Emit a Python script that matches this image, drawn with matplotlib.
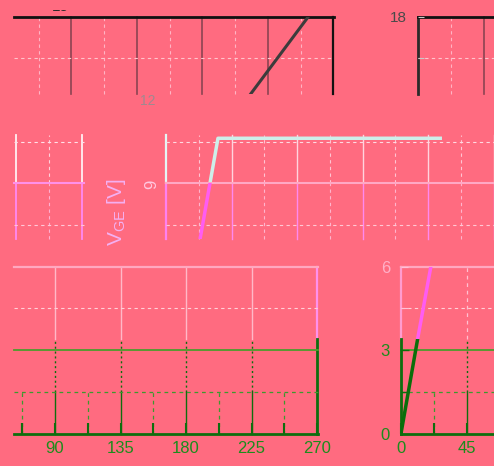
"""
Rekonstrukcija izlomljenog V_GE grafika (vise panela sa zajednickom y skalom).
"""

import matplotlib

matplotlib.use("Agg")
import matplotlib.pyplot as plt
from matplotlib.patches import Rectangle

plt.rcParams["font.family"] = ["Liberation Sans", "DejaVu Sans"]
plt.rcParams["mathtext.fontset"] = "custom"
plt.rcParams["mathtext.rm"] = "Liberation Sans"

W, H = 494, 466
BG = "#FF6B80"

# Zajednicka mreza
X_MAJOR = [0, 45, 90, 135, 180, 225, 270]
X_MINOR = [22.5, 67.5, 112.5, 157.5, 202.5, 247.5]
Y_MAJOR = [0, 3, 6, 9, 12, 15, 18]
Y_MINOR = [1.5, 4.5, 7.5, 10.5, 13.5, 16.5]

BOTTOM_XTICKS = [90, 135, 180, 225, 270]
RIGHT_XTICKS = [0, 45]
RIGHT_YTICKS_LOW = [0, 3]
RIGHT_YTICKS_HIGH = [6]

# Krive
a_x = [212.9, 252.8]
a_y = [12.2, 15.0]
d_x = [23.4, 35.7, 189.6]
d_y = [6.99, 10.62, 10.62]
f_x = [0.0, 11.6, 20.5]
f_y = [0.0, 3.45, 6.0]

PX_PER_X = 65.5 / 45
PX_PER_Y = 27.8
Y0_PX = 433.5
GREEN = "#0E6E0E"
GREEN_LIGHT = "#3C9A2E"


def add_band(fig, px_left, px_right, x_left, y_bottom, y_top):
    top_px = Y0_PX - PX_PER_Y * y_top
    bot_px = Y0_PX - PX_PER_Y * y_bottom
    ax = fig.add_axes([px_left / W, 1 - bot_px / H, (px_right - px_left) / W, (bot_px - top_px) / H])
    ax.set_xlim(x_left, x_left + (px_right - px_left) / PX_PER_X)
    ax.set_ylim(y_bottom, y_top)
    ax.set_facecolor("none")
    for sp in ax.spines.values():
        sp.set_visible(False)
    ax.set_xticks([])
    ax.set_yticks([])
    return ax


def inside(values, lims):
    lo, hi = sorted(lims)
    return [v for v in values if lo - 1e-6 <= v <= hi + 1e-6]


def vlines(ax, values, color, lw=1.0, ls="-", ymin=None, ymax=None):
    y_lo, y_hi = ax.get_ylim()
    for v in inside(values, ax.get_xlim()):
        ax.plot([v, v], [y_lo if ymin is None else ymin, y_hi if ymax is None else ymax],
                color=color, lw=lw, ls=ls, clip_on=False, zorder=1)


def hlines(ax, values, color, lw=1.0, ls="-"):
    x_lo, x_hi = ax.get_xlim()
    for v in inside(values, ax.get_ylim()):
        ax.plot([x_lo, x_hi], [v, v], color=color, lw=lw, ls=ls, clip_on=False, zorder=1)


DASH = (0, (3, 3))
DOT = (0, (1.5, 2))

fig = plt.figure(figsize=(W / 100, H / 100), dpi=100)
fig.patch.set_facecolor(BG)

# --- gornji lijevi panel
ax = add_band(fig, 14, 334, 50.5, 12.2, 15.0)
vlines(ax, X_MINOR, "#FFB4C4", lw=0.8, ls=DASH)
vlines(ax, X_MAJOR[:-1], "#8C4452", lw=1.2)
vlines(ax, [270], "#111111", lw=1.6)
hlines(ax, [13.5], "#FFC4CC", lw=0.8, ls=DASH)
hlines(ax, [15], "#111111", lw=2.0)
ax.plot(a_x, a_y, color="#3C3C3C", lw=2.2, zorder=3)

# --- gornji desni panel
ax = add_band(fig, 418, 494, 0, 12.2, 15.0)
vlines(ax, X_MINOR, "#FFB4C4", lw=0.8, ls=DASH)
vlines(ax, [45], "#8C4452", lw=1.2)
vlines(ax, [0], "#2A2A2A", lw=2.0)
hlines(ax, [13.5], "#FFC4CC", lw=0.8, ls=DASH)
hlines(ax, [15], "#111111", lw=2.0)
ax.set_yticks([13.5, 15], labels=["", "18"])
ax.tick_params(axis="y", direction="in", length=4, color="#C8C8C8", labelcolor="#4A4A4A",
               labelsize=11, pad=8)

# --- srednji lijevi panel
ax = add_band(fig, 14, 84, -1.38, 9.0, 10.72)
vlines(ax, [22.5], "#FFD0DA", lw=0.8, ls=DASH)
vlines(ax, [0, 45], "#FFF0F4", lw=1.3)
hlines(ax, [10.5], "#FFE0E8", lw=0.8, ls=DASH)
ax = add_band(fig, 14, 84, -1.38, 6.99, 9.0)
vlines(ax, [22.5], "#FFB0D0", lw=0.8, ls=DASH)
vlines(ax, [0, 45], "#FF88F4", lw=1.3)
hlines(ax, [7.5], "#FFC8D8", lw=0.8, ls=DASH)
hlines(ax, [9], "#FF90E8", lw=1.5)

# --- srednji desni panel
ax = add_band(fig, 166, 494, 0, 9.0, 10.72)
vlines(ax, X_MINOR, "#FFC4D2", lw=0.8, ls=DASH)
vlines(ax, X_MAJOR[1:], "#FFD4DE", lw=1.0)
vlines(ax, [0], "#E4F6F6", lw=1.6)
hlines(ax, [10.5], "#FFD8E0", lw=0.8, ls=DASH)
ax.plot(d_x, d_y, color="#CDEFEA", lw=2.5, zorder=3, solid_capstyle="butt")
ax = add_band(fig, 166, 494, 0, 6.99, 9.0)
vlines(ax, X_MINOR, "#FFB4CC", lw=0.8, ls=DASH)
vlines(ax, X_MAJOR[1:], "#FF88F0", lw=1.0)
vlines(ax, [0], "#FF80F0", lw=1.6)
hlines(ax, [7.5], "#FFC8D4", lw=0.8, ls=DASH)
hlines(ax, [9], "#FFA8C4", lw=1.5)
ax.plot(d_x, d_y, color="#FF5CF2", lw=2.5, zorder=3, solid_capstyle="butt")

fig.text(152 / W, 1 - 184 / H, "9", rotation=90, color="#FFC8E0", fontsize=12,
         ha="center", va="center")
fig.text(117 / W, 1 - 212 / H, r"V$_{\mathrm{GE}}$ [V]", rotation=90, color="#F4B0F2",
         fontsize=15, ha="center", va="center")

# --- donji lijevi panel
ax = add_band(fig, 14, 318, 61.8, 3.4, 6.0)
vlines(ax, X_MAJOR[:-1], "#FFB8C8", lw=1.0)
vlines(ax, [270], "#FF90EC", lw=1.6)
hlines(ax, [4.5], "#FFD0D8", lw=0.8, ls=DASH)
hlines(ax, [6], "#FFA8C0", lw=1.6)
ax = add_band(fig, 14, 318, 61.8, 0.0, 3.4)
vlines(ax, X_MINOR, GREEN_LIGHT, lw=0.9, ls=DASH, ymax=1.5)
vlines(ax, X_MAJOR[:-1], GREEN, lw=1.0, ls=DOT, ymin=1.5)
vlines(ax, X_MAJOR[:-1], GREEN, lw=1.0, ymax=1.5)
vlines(ax, [270], GREEN, lw=2.0)
hlines(ax, [1.5], GREEN_LIGHT, lw=0.9, ls=DASH)
hlines(ax, [3], "#4C9C2C", lw=1.3)
ax.spines["bottom"].set_visible(True)
ax.spines["bottom"].set_color(GREEN)
ax.spines["bottom"].set_linewidth(2)
ax.set_xticks(BOTTOM_XTICKS, labels=[str(v) for v in BOTTOM_XTICKS])
ax.set_xticks(X_MINOR[1:] + [90 - 22.5 + 0.0], minor=True)
ax.tick_params(axis="x", which="both", direction="in", length=8, width=1.5, color=GREEN,
               labelcolor="#1C8C1C", labelsize=12, pad=5.5)

# --- donji desni panel
ax = add_band(fig, 401, 494, 0, 3.4, 6.0)
vlines(ax, [45], "#FFC0D0", lw=0.9, ls=DASH)
vlines(ax, [0], "#FF9CD0", lw=1.6)
hlines(ax, [4.5], "#FFD0D8", lw=0.8, ls=DASH)
hlines(ax, [6], "#FFA8C0", lw=1.6)
ax.plot(f_x, f_y, color="#FF5CF2", lw=2.5, zorder=3, solid_capstyle="butt")
ax.set_yticks(RIGHT_YTICKS_HIGH + [4.5], labels=[str(v) for v in RIGHT_YTICKS_HIGH] + [""])
ax.tick_params(axis="y", direction="in", length=5, color="#FFC0D8", labelcolor="#FFB0C8",
               labelsize=12, pad=8)
ax = add_band(fig, 401, 494, 0, 0.0, 3.4)
vlines(ax, [22.5], GREEN_LIGHT, lw=0.9, ls=DASH, ymax=1.5)
vlines(ax, [45], GREEN, lw=1.0, ls=DOT, ymin=1.5)
vlines(ax, [45], GREEN, lw=1.0, ymax=1.5)
hlines(ax, [1.5], GREEN_LIGHT, lw=0.9, ls=DASH)
hlines(ax, [3], "#4C9C2C", lw=1.3)
ax.plot(f_x, f_y, color="#0A6E0A", lw=2.5, zorder=3, solid_capstyle="butt")
for side in ["left", "bottom"]:
    ax.spines[side].set_visible(True)
    ax.spines[side].set_color(GREEN)
    ax.spines[side].set_linewidth(2)
ax.set_xticks(RIGHT_XTICKS, labels=[str(v) for v in RIGHT_XTICKS])
ax.set_xticks([22.5], minor=True)
ax.set_yticks(RIGHT_YTICKS_LOW + [1.5], labels=[str(v) for v in RIGHT_YTICKS_LOW] + [""])
ax.tick_params(axis="both", which="both", direction="in", length=8, width=1.5, color=GREEN,
               labelcolor="#1C8C1C", labelsize=12)
ax.tick_params(axis="x", pad=5.5)
ax.tick_params(axis="y", pad=8, length=6, width=1)

# ostaci natpisa
fig.text(60 / W, 1 - 14 / H, "15", color="#2A2A2A", fontsize=11, ha="center", va="bottom")
fig.text(148 / W, 1 - 101 / H, "12", color="#A08890", fontsize=10, ha="center", va="center")

# odsjecene ivice
fig.patches.append(Rectangle((0, 0), 1, 11 / H, transform=fig.transFigure,
                             facecolor=BG, edgecolor="none", zorder=10))
fig.patches.append(Rectangle((0, 1 - 10 / H), 1, 10 / H, transform=fig.transFigure,
                             facecolor=BG, edgecolor="none", zorder=10))

fig.savefig("out.png", dpi=100, facecolor=BG)
